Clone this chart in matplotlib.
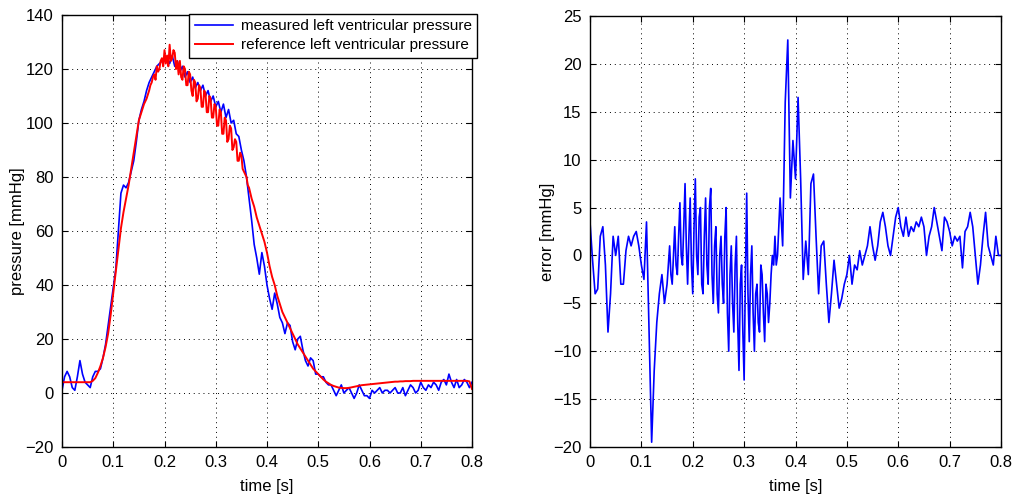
import numpy as np
import matplotlib
matplotlib.use("Agg")
import matplotlib.pyplot as plt

# values; 5 ms steps, 2.5 ms in the noisy parts
dt = 0.005

measured = [
    1, 6, 8, 6, 2, 1, 6, 12, 7, 4,
    3, 2, 6, 8, 8, 9, 13, 18, 25, 32,
    39, 46, 60, 74, 77, 76, 78, 82, 86, 93,
    101, 105, 108, 112, 115, 117, 119, 121, 122, 123,
    123, 124, 122, 125, 121, 123, 119, 121, 117, 119,
    115, 117, 113, 115, 112, 114, 110, 112, 108, 110,
    106, 108, 104, 107, 102, 105, 100, 101, 96, 95,
    90, 86, 80, 72, 64, 55, 50, 44, 52, 47,
    40, 35, 31, 37, 33, 28, 26, 22, 26, 25,
    19, 16, 20, 21, 16, 12, 10, 13, 12, 7,
    7, 6, 6, 4, 3, 3, 1, -1, 1, 3,
    0, 1, 2, 0, -2, 0, 3, 1, -1, -1,
    -2, 1, 0, 1, 2, 0, 1, 1, 0, 1,
    2, 0, 0, 2, -1, 1, 3, 2, 0, 1,
    4, 2, 1, 3, 2, 4, 3, 1, 4, 5,
    3, 7, 4, 2, 5, 2, 3, 5, 4, 2,
    4,
]

# reference pressure: 0-0.165 s (5 ms), 0.17-0.3675 s (2.5 ms), 0.37-0.8 s (5 ms)
reference_start = [
    4, 4, 4, 4, 4, 4, 4, 4, 4, 4,
    4, 4, 4.5, 5.5, 7.5, 10, 13, 17, 22, 29,
    37, 45, 53, 61, 67, 72, 77, 83, 89, 95,
    101, 104, 107, 109,
]
reference_noisy = [
    112, 114, 115, 117, 118, 116, 121, 119,
    120, 123, 124, 121, 127, 122, 125, 121,
    129, 123, 124, 127, 126, 120, 123, 118,
    123, 117, 116, 121, 120, 114, 114, 119,
    118, 112, 110, 116, 115, 108, 109, 114,
    113, 106, 106, 112, 111, 104, 104, 110,
    109, 102, 102, 107, 106, 99, 99, 105,
    104, 96, 96, 102, 101, 93, 94, 99,
    98, 90, 91, 94, 93, 86, 86, 89,
    88, 83, 82, 81, 80, 77, 76, 74,
]
reference_end = [
    72, 69, 65, 62, 59, 56,
    52, 47, 43, 40, 36, 33, 30, 28, 26, 24,
    22, 20, 18, 16.5, 15, 13.5, 12, 10.5, 9, 8,
    7, 6, 5, 4.2, 3.6, 3, 2.6, 2.3, 2, 1.9,
    1.8, 1.8, 1.9, 2.1, 2.3, 2.5, 2.7, 2.9, 3.0, 3.1,
    3.2, 3.3, 3.4, 3.5, 3.6, 3.7, 3.8, 3.9, 4.0, 4.1,
    4.2, 4.2, 4.3, 4.3, 4.4, 4.4, 4.4, 4.5, 4.5, 4.5,
    4.5, 4.5, 4.5, 4.5, 4.5, 4.5, 4.5, 4.5, 4.5, 4.5,
    4.5, 4.5, 4.5, 4.5, 4.5, 4.5, 4.5, 4.5, 4.5, 4.3,
    1.5,
]

# error: 0-0.145 s (5 ms), 0.15-0.3675 s (2.5 ms), 0.37-0.8 s (5 ms)
error_start = [
    3.5, -0.5, -4, -3.5, 2, 3, -1, -8, -4, 2,
    0, 2, -3, -3, 0.5, 2, 1, 2, 2.5, 1,
    -1, -2.5, 3.5, -8, -19.5, -12, -7, -4, -2, -5,
]
error_noisy = [
    -3, -1, 1, -2, -3, 0, 3, -1,
    -2, 2, 5.5, 0, -1, 3, 7.5, 1,
    -3, 2, 6, -1, -4, 3, 8, 0,
    -2, 4, 5, -3, -4, 2, 6, -1,
    -3, 5, 7, -2, -5, 1, 3, -4,
    -6, 0, 2, -3, -5, 2, 5, -6,
    -10, -2, 1, -5, -8, -1, 2, -7,
    -12, -3, -1, -8, -13, -2, 6.5, -4,
    -9, -2, 1, -6, -10, -4, -3, -7,
    -8, -1, -2, -6, -9, -3, -4, -7,
    -5, -2, 0, -1, 2, -1, 0, 3,
]
error_end = [
    6, 1, 16, 22.5, 6, 12,
    8, 16.5, 8, -2.5, 1.5, -2, 7.5, 8.5, 2, -4,
    1, 1.5, -3, -7, -4, -0.5, -3, -5.5, -4.5, -3,
    -2, 0, -3, -1, -1.5, 0.5, -1, 0, 1, 3,
    1, -0.5, 1, 3.5, 4.5, 3, 1, 0, 2, 4,
    5, 3, 2, 4, 2, 3, 2.5, 3.5, 3, 4,
    3, 0, 2, 3, 5, 3.5, 2, 0.5, 4, 3.5,
    2.5, 1, 2, 1.5, 2, -1.3, 2.5, 3, 4.5, 3,
    0, -3, -1, 2, 4.5, 1, 0, -1, 2, 0,
    0,
]


def time_axis(n_start, n_noisy, n_end, t_noisy):
    return np.concatenate([
        np.arange(n_start) * dt,
        t_noisy + np.arange(n_noisy) * dt / 2,
        t_noisy + n_noisy * dt / 2 + np.arange(n_end) * dt,
    ])


t_p = np.arange(len(measured)) * dt
t_r = time_axis(len(reference_start), len(reference_noisy), len(reference_end), 0.17)
reference = reference_start + reference_noisy + reference_end
t_e = time_axis(len(error_start), len(error_noisy), len(error_end), 0.15)
error = error_start + error_noisy + error_end

plt.rcParams["font.family"] = ["Liberation Sans", "DejaVu Sans"]
plt.rcParams["axes.unicode_minus"] = True

fig = plt.figure(figsize=(10.18, 5.0), dpi=100)
ax1 = fig.add_axes([62 / 1018, 53 / 500, 410 / 1018, 432 / 500])
ax2 = fig.add_axes([590 / 1018, 53 / 500, 411 / 1018, 431 / 500])


def matlab_style(ax):
    ax.grid(True, color="black", linestyle=(0, (1, 4)), linewidth=0.7)
    ax.tick_params(direction="in", length=4, width=0.8, labelsize=12,
                   top=True, right=True, pad=6)
    for s in ax.spines.values():
        s.set_linewidth(1.0)
    ax.set_xlim(0, 0.8)
    ax.set_xticks(np.arange(0, 0.81, 0.1))
    ax.set_xticklabels(["0", "0.1", "0.2", "0.3", "0.4", "0.5", "0.6", "0.7", "0.8"])
    ax.set_xlabel("time [s]", fontsize=12)
    ax.xaxis.set_label_coords(0.5, -0.074)


ax1.plot(t_p, measured, color="blue", linewidth=1.2, label="measured left ventricular pressure")
ax1.plot(t_r, reference, color="red", linewidth=1.4, label="reference left ventricular pressure")
matlab_style(ax1)
ax1.set_ylim(-20, 140)
ax1.set_yticks(np.arange(-20, 141, 20))
ax1.set_ylabel("pressure [mmHg]", fontsize=12)
ax1.yaxis.set_label_coords(-0.09, 0.5)
leg = ax1.legend(loc="upper right", bbox_to_anchor=(1.012, 1.003), fontsize=11,
                 handlelength=2.5, fancybox=False, framealpha=1,
                 edgecolor="black", borderaxespad=0, borderpad=0.35,
                 labelspacing=0.35, handletextpad=0.5)
leg.get_frame().set_linewidth(1.0)

ax2.plot(t_e, error, color="blue", linewidth=1.2)
matlab_style(ax2)
ax2.set_ylim(-20, 25)
ax2.set_yticks(np.arange(-20, 26, 5))
ax2.set_ylabel("error [mmHg]", fontsize=12)
ax2.yaxis.set_label_coords(-0.085, 0.5)

fig.savefig("out.png", dpi=100)
